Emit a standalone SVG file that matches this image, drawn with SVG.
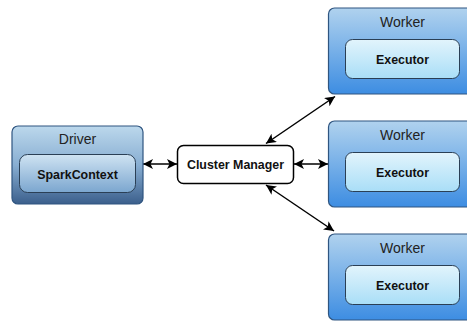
<svg xmlns="http://www.w3.org/2000/svg" width="467" height="322" viewBox="0 0 467 322">
<defs>
<linearGradient id="gDriver" x1="0" y1="0" x2="0" y2="1">
<stop offset="0" stop-color="#bcd8ec"/>
<stop offset="0.5" stop-color="#88aed2"/>
<stop offset="1" stop-color="#3b5f8c"/>
</linearGradient>
<linearGradient id="gSpark" x1="0" y1="0" x2="0" y2="1">
<stop offset="0" stop-color="#cfe3f2"/>
<stop offset="1" stop-color="#7ba6cf"/>
</linearGradient>
<linearGradient id="gWorker" x1="0" y1="0" x2="0" y2="1">
<stop offset="0" stop-color="#b0d2ee"/>
<stop offset="1" stop-color="#3d8de2"/>
</linearGradient>
<linearGradient id="gExec" x1="0" y1="0" x2="0" y2="1">
<stop offset="0" stop-color="#e2f4fc"/>
<stop offset="1" stop-color="#a9def7"/>
</linearGradient>
<marker id="ah" viewBox="0 0 10 10" refX="10" refY="5" markerWidth="10" markerHeight="10" markerUnits="userSpaceOnUse" orient="auto-start-reverse">
<path d="M0,0 L10,5 L0,10 L2.5,5 Z" fill="#000"/>
</marker>
<style>
.outer{stroke:#2f5580;stroke-width:1.2}
.inner{stroke:#2a3f55;stroke-width:1}
.title{font-family:"Liberation Sans",Arial,sans-serif;font-size:14px;fill:#222;text-anchor:middle}
.label{font-family:"Liberation Sans",Arial,sans-serif;font-size:12.4px;font-weight:bold;fill:#111;text-anchor:middle}
.conn{stroke:#000;stroke-width:1.5;fill:none;marker-start:url(#ah);marker-end:url(#ah)}
</style>
</defs>
<rect width="467" height="322" fill="#fff"/>
<g id="connectors">
<line class="conn" x1="143" y1="164" x2="177" y2="164"/>
<line class="conn" x1="294" y1="164" x2="328" y2="164"/>
<line class="conn" x1="266" y1="143.5" x2="335" y2="96.5"/>
<line class="conn" x1="266" y1="185" x2="334" y2="231"/>
</g>
<g id="driver">
<rect class="outer" x="12" y="126" width="131" height="78" rx="6" fill="url(#gDriver)"/>
<text class="title" x="77.5" y="144">Driver</text>
<rect class="inner" x="19.5" y="154.5" width="116" height="38" rx="8" fill="url(#gSpark)"/>
<text class="label" x="77.5" y="178.5">SparkContext</text>
</g>
<g id="cluster-manager">
<rect x="177.5" y="145.5" width="116" height="38" rx="6" fill="#fff" stroke="#000" stroke-width="1.5"/>
<text class="label" x="235.5" y="169">Cluster Manager</text>
</g>
<g id="worker1">
<rect class="outer" x="328.5" y="8" width="148" height="86" rx="6" fill="url(#gWorker)"/>
<text class="title" x="402.5" y="27">Worker</text>
<rect class="inner" x="345.5" y="39.5" width="114" height="39" rx="7" fill="url(#gExec)"/>
<text class="label" x="402.5" y="63.5">Executor</text>
</g>
<g id="worker2">
<rect class="outer" x="328.5" y="121" width="148" height="86" rx="6" fill="url(#gWorker)"/>
<text class="title" x="402.5" y="140">Worker</text>
<rect class="inner" x="345.5" y="152.5" width="114" height="39" rx="7" fill="url(#gExec)"/>
<text class="label" x="402.5" y="176.5">Executor</text>
</g>
<g id="worker3">
<rect class="outer" x="328.5" y="234" width="148" height="86" rx="6" fill="url(#gWorker)"/>
<text class="title" x="402.5" y="253">Worker</text>
<rect class="inner" x="345.5" y="265.5" width="114" height="39" rx="7" fill="url(#gExec)"/>
<text class="label" x="402.5" y="289.5">Executor</text>
</g>
</svg>
